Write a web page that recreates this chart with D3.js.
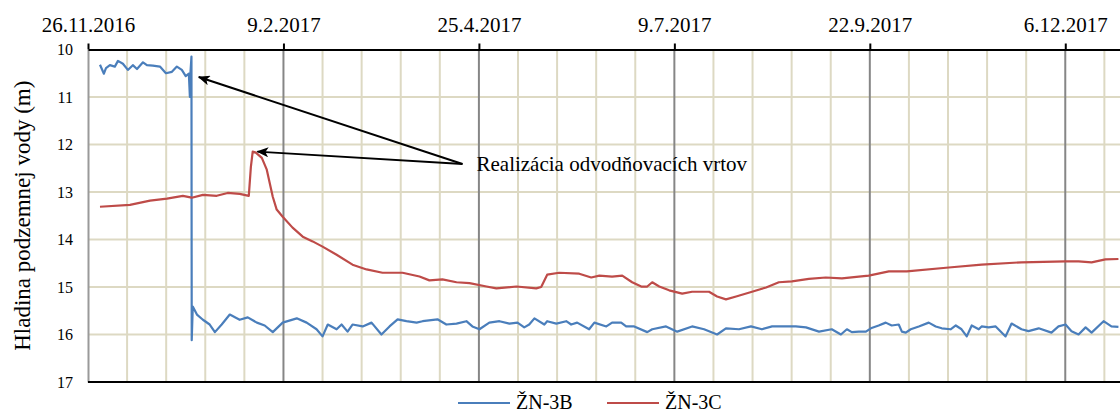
<!DOCTYPE html>
<html>
<head>
<meta charset="utf-8">
<script src="https://cdn.jsdelivr.net/npm/d3@7"></script>
<style>
  body { margin: 0; background: #fff; }
  svg { display: block; }
  svg text { font-family: "Liberation Serif", "DejaVu Serif", "Times New Roman", serif; }
</style>
</head>
<body>
<div id="chart"></div>
<script>
// days after 26.11.2016 and water level (m below surface)
var days3B = [4.6, 6.1, 6.9, 8.4, 10.3, 11.5, 13.4, 15.3, 17.2, 18.8, 21.1, 22.6, 24.9, 27.6, 29.9, 32.2, 34.1, 36.0, 37.5, 38.7,
  39.1, 39.3, 39.7, 39.8, 40.2, 41.8, 44.1, 46.7, 48.7, 51.3, 54.4, 58.2, 61.3, 64.8, 67.8, 70.9, 74.7, 80.1, 83.9, 87.7,
  90.0, 92.0, 95.4, 97.3, 99.6, 101.5, 105.4, 108.8, 112.6, 115.7, 118.8, 122.2, 126.1, 128.4, 134.1, 137.5, 141.4, 145.2, 147.5, 150.2,
  154.0, 157.9, 161.7, 164.8, 167.4, 169.3, 171.3, 175.1, 176.2, 179.7, 183.5, 185.4, 187.7, 192.3, 194.3, 198.9, 201.1, 204.6, 206.5, 209.6,
  214.6, 216.5, 221.8, 226.1, 231.8, 236.4, 241.4, 244.8, 249.8, 254.4, 258.6, 262.5, 267.8, 271.6, 275.5, 280.5, 285.4, 288.9, 291.2, 293.1,
  295.8, 298.5, 300.4, 303.4, 306.1, 308.4, 311.1, 312.3, 313.8, 315.7, 318.8, 322.6, 325.3, 327.6, 331.0, 333.0, 335.2, 337.2, 339.1, 341.8,
  342.9, 345.6, 348.3, 352.1, 354.4, 358.2, 360.9, 364.8, 369.7, 372.4, 375.1, 377.4, 380.1, 382.8, 385.1, 389.7, 392.7, 395.4];
var level3B = [10.32, 10.51, 10.39, 10.33, 10.36, 10.24, 10.30, 10.43, 10.33, 10.41, 10.27, 10.33, 10.34, 10.36, 10.50, 10.47, 10.36, 10.43, 10.56, 10.51,
  11.0, 10.5, 10.15, 16.12, 15.41, 15.58, 15.69, 15.79, 15.95, 15.79, 15.58, 15.69, 15.64, 15.75, 15.81, 15.95, 15.75, 15.66, 15.75, 15.89,
  16.04, 15.79, 15.89, 15.79, 15.94, 15.79, 15.83, 15.75, 16.0, 15.83, 15.68, 15.72, 15.75, 15.72, 15.68, 15.79, 15.77, 15.72, 15.83, 15.89,
  15.75, 15.72, 15.77, 15.75, 15.85, 15.79, 15.66, 15.79, 15.72, 15.77, 15.72, 15.79, 15.75, 15.89, 15.75, 15.83, 15.75, 15.75, 15.83, 15.83,
  15.95, 15.89, 15.83, 15.94, 15.83, 15.89, 16.0, 15.87, 15.89, 15.83, 15.89, 15.83, 15.83, 15.83, 15.85, 15.94, 15.89, 16.0, 15.89, 15.95,
  15.94, 15.94, 15.87, 15.81, 15.75, 15.81, 15.79, 15.94, 15.96, 15.89, 15.83, 15.75, 15.83, 15.87, 15.89, 15.81, 15.89, 16.04, 15.81, 15.89,
  15.83, 15.85, 15.83, 16.04, 15.77, 15.89, 15.93, 15.87, 15.96, 15.83, 15.79, 15.93, 16.0, 15.85, 15.96, 15.72, 15.83, 15.84];

var days3C = [4.6, 16.1, 23.8, 30.3, 36.4, 39.8, 44.1, 49.4, 53.6, 58.2, 61.7, 62.5, 63.2, 64.4, 66.7, 68.6, 70.9, 72.4, 74.7, 78.5,
  82.4, 86.2, 90.0, 95.4, 101.5, 106.9, 113.0, 120.7, 127.2, 131.0, 136.0, 141.4, 146.4, 152.9, 156.7, 164.4, 172.0, 173.9, 176.2, 180.8,
  188.5, 193.1, 196.2, 201.1, 205.0, 208.8, 212.3, 214.6, 216.5, 219.2, 223.0, 228.0, 231.8, 238.3, 241.4, 244.8, 248.7, 254.8, 260.2, 265.1,
  270.1, 276.6, 283.1, 289.3, 295.8, 299.6, 307.3, 314.2, 330.3, 342.9, 358.2, 375.1, 380.1, 385.1, 390.4, 395.4];
var level3C = [13.31, 13.27, 13.18, 13.14, 13.08, 13.12, 13.06, 13.08, 13.02, 13.04, 13.08, 12.47, 12.15, 12.17, 12.28, 12.53, 13.10, 13.37, 13.52, 13.75,
  13.94, 14.04, 14.15, 14.32, 14.53, 14.63, 14.70, 14.70, 14.78, 14.86, 14.84, 14.90, 14.92, 14.99, 15.03, 14.99, 15.03, 15.0, 14.74, 14.70,
  14.72, 14.80, 14.76, 14.78, 14.76, 14.90, 14.99, 14.99, 14.90, 14.99, 15.07, 15.14, 15.10, 15.10, 15.20, 15.26, 15.20, 15.10, 15.01, 14.90,
  14.88, 14.83, 14.80, 14.82, 14.78, 14.76, 14.67, 14.67, 14.59, 14.53, 14.48, 14.46, 14.46, 14.48, 14.42, 14.41];

var seriesNames = ["ŽN-3B", "ŽN-3C"];
var seriesColors = ["#4a7ebb", "#be4b48"];
var yTicks = [10, 11, 12, 13, 14, 15, 16, 17];
var majorStepDays = 75, minorStepDays = 15, lastDay = 396;
var noteText = "Realizácia odvodňovacích vrtov";
// arrow start [day, level] and the two points it marks
var noteFrom = [143.7, 12.41];
var noteTargets = [[42.5, 10.58], [65.0, 12.15]];

var W = 1120, H = 414;
var margin = {top: 49.5, right: 0, bottom: 32, left: 88};
var start = new Date(Date.UTC(2016, 10, 26));
var dayToDate = function (d) { return new Date(start.getTime() + d * 864e5); };

var svg = d3.select("#chart").append("svg").attr("width", W).attr("height", H);

var x = d3.scaleUtc().domain([start, dayToDate(lastDay)]).range([margin.left, W - margin.right]);
var y = d3.scaleLinear().domain([10, 17]).range([margin.top, H - margin.bottom]);

var minorDays = d3.range(minorStepDays, lastDay, minorStepDays).filter(function (d) { return d % majorStepDays != 0; });
var majorDays = d3.range(0, lastDay, majorStepDays);

// grid
var grid = svg.append("g");
grid.selectAll("line.h").data(yTicks.slice(1, -1)).enter().append("line")
  .attr("x1", x.range()[0]).attr("x2", x.range()[1])
  .attr("y1", function (d) { return y(d); }).attr("y2", function (d) { return y(d); })
  .attr("stroke", "#ddd9c3").attr("stroke-width", 2);
grid.selectAll("line.vminor").data(minorDays).enter().append("line")
  .attr("x1", function (d) { return x(dayToDate(d)); }).attr("x2", function (d) { return x(dayToDate(d)); })
  .attr("y1", y(10)).attr("y2", y(17))
  .attr("stroke", "#ddd9c3").attr("stroke-width", 2);
grid.selectAll("line.vmajor").data(majorDays.slice(1)).enter().append("line")
  .attr("x1", function (d) { return x(dayToDate(d)); }).attr("x2", function (d) { return x(dayToDate(d)); })
  .attr("y1", y(10)).attr("y2", y(17))
  .attr("stroke", "#868686").attr("stroke-width", 2);

// series
var line = d3.line()
  .x(function (d) { return x(dayToDate(d[0])); })
  .y(function (d) { return y(d[1]); });
[[days3B, level3B], [days3C, level3C]].forEach(function (s, i) {
  svg.append("path")
    .datum(d3.zip(s[0], s[1]))
    .attr("d", line)
    .attr("fill", "none")
    .attr("stroke", seriesColors[i])
    .attr("stroke-width", 2.2)
    .attr("stroke-linejoin", "round");
});

// left axis
var yAxis = svg.append("g").attr("transform", "translate(" + margin.left + ",0)")
  .call(d3.axisLeft(y).tickValues(yTicks).tickSize(0).tickPadding(15).tickFormat(d3.format("d")));
yAxis.attr("font-family", null);
yAxis.select(".domain").attr("stroke", "#9a9a9a").attr("stroke-width", 2);
yAxis.selectAll("text").attr("font-size", 16).attr("fill", "#000");

// bottom line
svg.append("line").attr("x1", margin.left).attr("x2", W).attr("y1", y(17)).attr("y2", y(17))
  .attr("stroke", "#000").attr("stroke-width", 2);

// top axis with dates
var xAxis = svg.append("g").attr("transform", "translate(0," + margin.top + ")")
  .call(d3.axisTop(x).tickValues(majorDays.map(dayToDate)).tickSize(6).tickSizeOuter(0)
    .tickPadding(11.5).tickFormat(d3.utcFormat("%-d.%-m.%Y")));
xAxis.attr("font-family", null);
xAxis.select(".domain").attr("stroke", "#000").attr("stroke-width", 2);
xAxis.selectAll(".tick line").attr("stroke", "#000").attr("stroke-width", 2);
xAxis.selectAll("text").attr("font-size", 21).attr("fill", "#000");

// y title
svg.append("text")
  .attr("transform", "translate(30," + ((y(10) + y(17)) / 2) + ") rotate(-90)")
  .attr("text-anchor", "middle")
  .attr("font-size", 23)
  .text("Hladina podzemnej vody (m)");

// annotation
svg.append("defs").append("marker")
  .attr("id", "arrow").attr("viewBox", "0 0 12 10").attr("refX", 11).attr("refY", 5)
  .attr("markerWidth", 12).attr("markerHeight", 10).attr("markerUnits", "userSpaceOnUse")
  .attr("orient", "auto")
  .append("path").attr("d", "M0,0 L12,5 L0,10 L3,5 Z").attr("fill", "#000");
noteTargets.forEach(function (t) {
  svg.append("line")
    .attr("x1", x(dayToDate(noteFrom[0]))).attr("y1", y(noteFrom[1]))
    .attr("x2", x(dayToDate(t[0]))).attr("y2", y(t[1]))
    .attr("stroke", "#000").attr("stroke-width", 2)
    .attr("marker-end", "url(#arrow)");
});
svg.append("text")
  .attr("x", x(dayToDate(noteFrom[0])) + 14).attr("y", y(noteFrom[1]) + 7)
  .attr("font-size", 21)
  .text(noteText);

// legend
var legend = svg.append("g").attr("transform", "translate(0,403)");
var legendX = [458, 607];
seriesNames.forEach(function (n, i) {
  legend.append("line").attr("x1", legendX[i]).attr("x2", legendX[i] + 52)
    .attr("stroke", seriesColors[i]).attr("stroke-width", 2);
  legend.append("text").attr("x", legendX[i] + 58).attr("y", 6).attr("font-size", 20).text(n);
});
</script>
</body>
</html>
